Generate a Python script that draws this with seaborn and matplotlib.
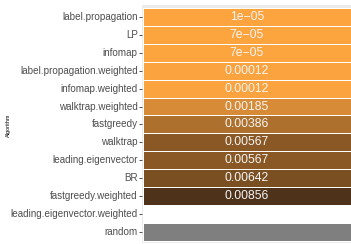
import numpy as np
import pandas as pd
import seaborn as sns
import matplotlib.pyplot as plt
from matplotlib.colors import LinearSegmentedColormap, ListedColormap

algorithms = ["label.propagation", "LP", "infomap", "label.propagation.weighted",
              "infomap.weighted", "walktrap.weighted", "fastgreedy", "walktrap",
              "leading.eigenvector", "BR", "fastgreedy.weighted",
              "leading.eigenvector.weighted", "random"]
times = [1e-05, 7e-05, 7e-05, 0.00012, 0.00012, 0.00185, 0.00386, 0.00567,
         0.00567, 0.00642, 0.00856, np.nan, np.nan]
time_labels = ["1e\u221205", "7e\u221205", "7e\u221205", "0.00012", "0.00012",
               "0.00185", "0.00386", "0.00567", "0.00567", "0.00642", "0.00856", "", ""]
# fill for rows without a time: 0 = blank tile, 1 = grey (NA) tile
missing_fill = [np.nan] * 11 + [0, 1]

sns.set_theme(style="white")
plt.rcParams["font.family"] = ["Liberation Sans", "DejaVu Sans"]

df = pd.DataFrame({"time": times}, index=algorithms)
df_missing = pd.DataFrame({"time": missing_fill}, index=algorithms)
annot = np.array(time_labels).reshape(-1, 1)

cmap = LinearSegmentedColormap.from_list("orange_brown", ["#fda43e", "#4e3219"])

fig = plt.figure(figsize=(3.51, 2.44), dpi=100)
ax = fig.add_axes([142 / 351, 1 / 244, 1 - 142 / 351, 238 / 244])
ax.set_facecolor("#ebebeb")

sns.heatmap(df, ax=ax, cmap=cmap, annot=annot, fmt="", cbar=False,
            linewidths=0.6, linecolor="white",
            annot_kws={"color": "#f5f5f5", "fontsize": 8.8})
sns.heatmap(df_missing, ax=ax, cmap=ListedColormap(["white", "#7f7f7f"]),
            vmin=0, vmax=1, cbar=False, linewidths=0.6, linecolor="white")

ax.set_ylim(13.12, -0.17)
ax.set_xlim(-0.005, 1.0)
ax.set_xticks([])
ax.set_xlabel("")
ax.set_ylabel("")
ax.set_yticks(np.arange(len(algorithms)) + 0.5)
ax.set_yticklabels(algorithms, rotation=0, fontsize=7.1, color="#4d4d4d")
ax.tick_params(axis="y", left=True, length=2, width=0.6, color="#333333", pad=1)
for s in ax.spines.values():
    s.set_visible(False)

fig.text(8 / 351, 0.488, "Algorithm", rotation=90, fontsize=4,
         ha="center", va="center", color="black")

fig.savefig("out.png", dpi=100)
